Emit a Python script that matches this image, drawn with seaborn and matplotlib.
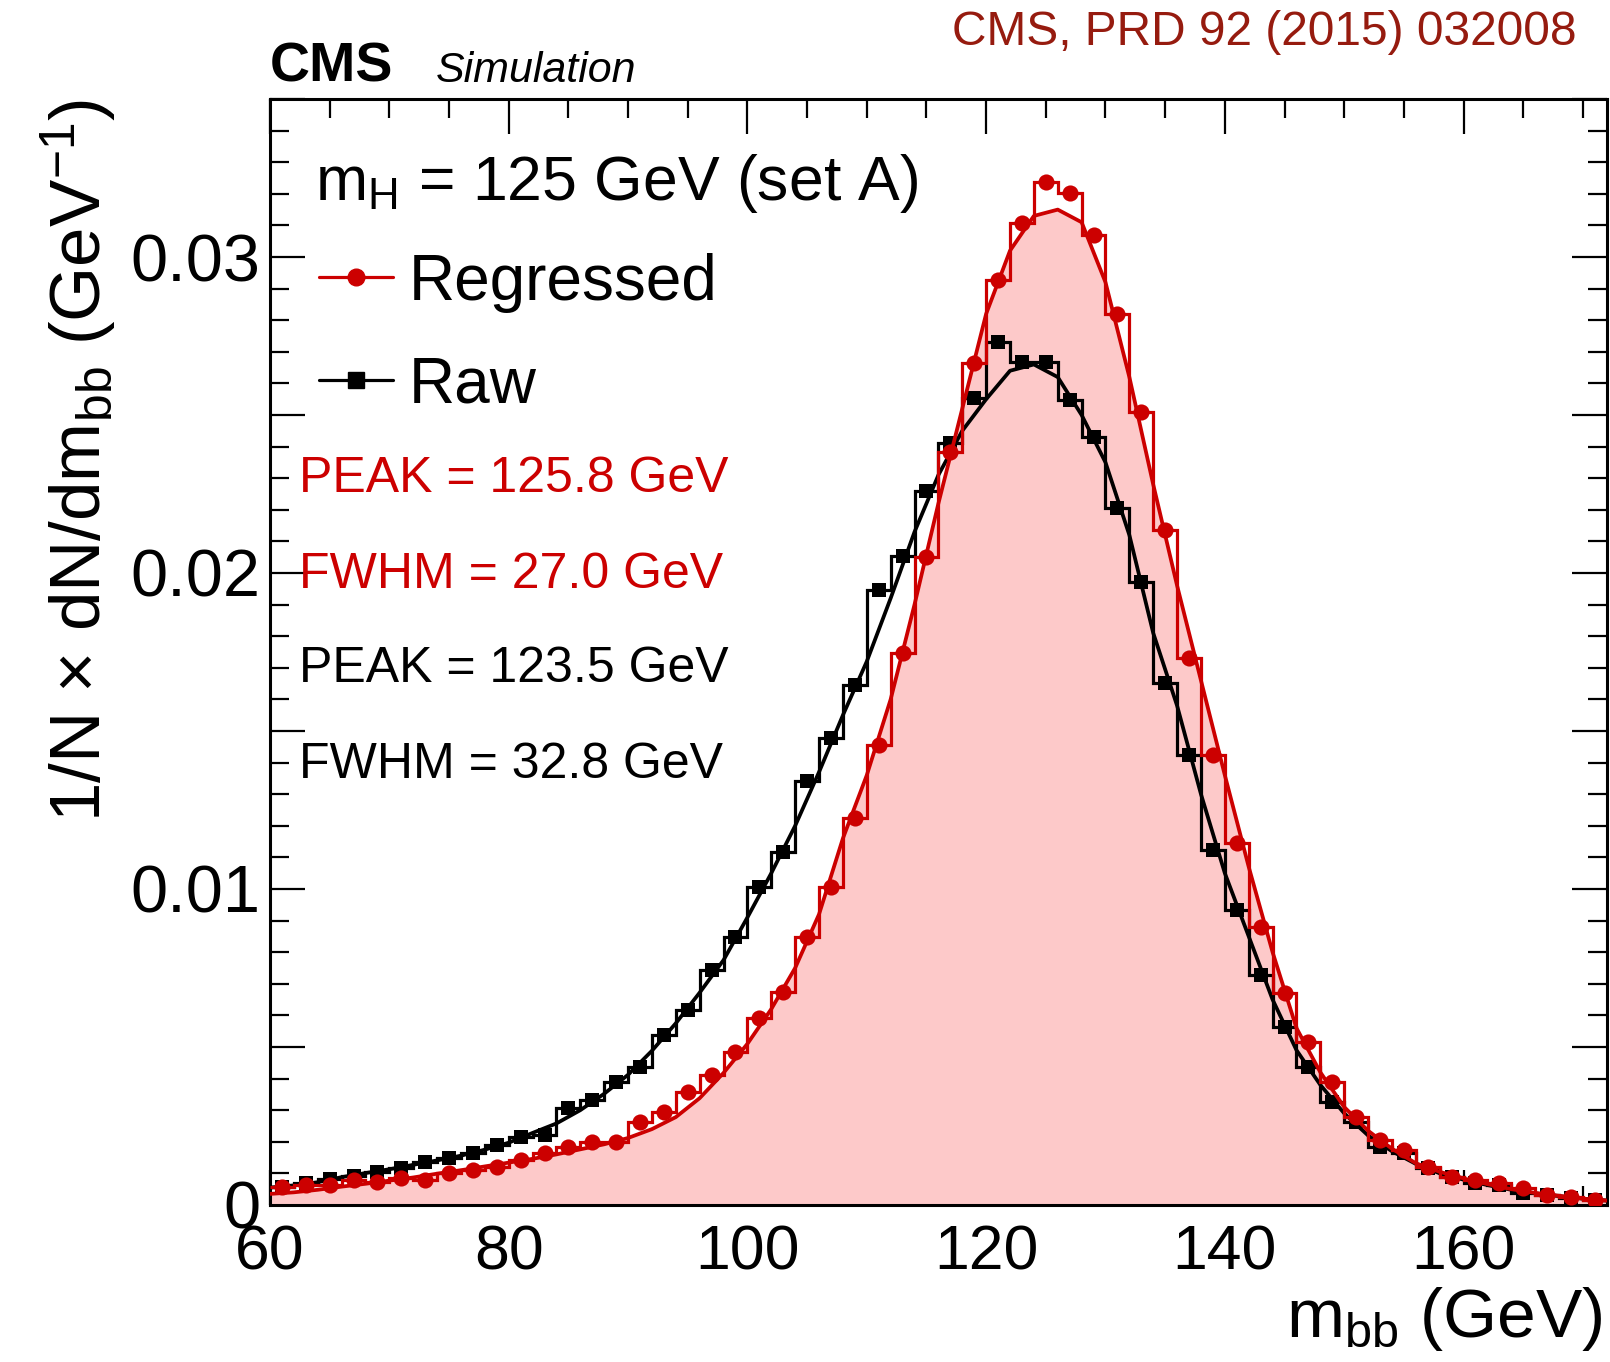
import matplotlib
matplotlib.use("Agg")
import numpy as np
import pandas as pd
import matplotlib.pyplot as plt
import seaborn as sns
from matplotlib.ticker import MultipleLocator, FuncFormatter
from matplotlib.lines import Line2D

sns.set_style("ticks")
plt.rcParams['font.family'] = ['Liberation Sans', 'DejaVu Sans']
plt.rcParams['mathtext.fontset'] = 'custom'
plt.rcParams['mathtext.rm'] = 'Liberation Sans'
plt.rcParams['mathtext.it'] = 'Liberation Sans:italic'
plt.rcParams['mathtext.bf'] = 'Liberation Sans:bold'
plt.rcParams['mathtext.default'] = 'regular'
for k in ['text.color', 'axes.labelcolor', 'xtick.color', 'ytick.color', 'axes.edgecolor']:
    plt.rcParams[k] = 'black'

# ---------------- data ----------------
bin_edges = list(range(60, 174, 2))          # 2 GeV bins, 60..172
bin_centers = [e + 1 for e in bin_edges[:-1]]

regressed = [0.00058, 0.00063, 0.00063, 0.00079, 0.00074, 0.00084, 0.00079, 0.00100, 0.00111, 0.00121,
             0.00142, 0.00164, 0.00185, 0.00200, 0.00200, 0.00264, 0.00295, 0.00359, 0.00411, 0.00485,
             0.00591, 0.00675, 0.00849, 0.01007, 0.01224, 0.01455, 0.01748, 0.02052, 0.02382, 0.02664,
             0.02927, 0.03107, 0.03238, 0.03202, 0.03070, 0.02820, 0.02510, 0.02135, 0.01730, 0.01424,
             0.01145, 0.00881, 0.00670, 0.00517, 0.00390, 0.00279, 0.00206, 0.00174, 0.00121, 0.00090,
             0.00079, 0.00069, 0.00053, 0.00032, 0.00026, 0.00016]

raw = [0.00058, 0.00068, 0.00082, 0.00093, 0.00105, 0.00118, 0.00135, 0.00148, 0.00165, 0.00190,
       0.00216, 0.00222, 0.00306, 0.00332, 0.00390, 0.00438, 0.00538, 0.00617, 0.00744, 0.00849,
       0.01007, 0.01118, 0.01343, 0.01477, 0.01646, 0.01945, 0.02055, 0.02260, 0.02410, 0.02553,
       0.02732, 0.02669, 0.02669, 0.02547, 0.02431, 0.02205, 0.01970, 0.01651, 0.01424, 0.01123,
       0.00934, 0.00728, 0.00564, 0.00438, 0.00327, 0.00264, 0.00185, 0.00164, 0.00116, 0.00090,
       0.00069, 0.00063, 0.00037, 0.00032, 0.00021, 0.00016]

fit_mass = list(range(60, 174, 2))
fit_regressed = [0.00035, 0.00040, 0.00048, 0.00058, 0.00067, 0.00077, 0.00087, 0.00099, 0.00110, 0.00122,
                 0.00134, 0.00146, 0.00160, 0.00176, 0.00192, 0.00212, 0.00240, 0.00278, 0.00338, 0.00418,
                 0.00510, 0.00620, 0.00750, 0.00920, 0.01160, 0.01360, 0.01600, 0.01900, 0.02220, 0.02520,
                 0.02820, 0.03020, 0.03130, 0.03150, 0.03110, 0.02920, 0.02620, 0.02280, 0.01960, 0.01660,
                 0.01360, 0.01070, 0.00800, 0.00560, 0.00420, 0.00310, 0.00235, 0.00178, 0.00132, 0.00105,
                 0.00084, 0.00066, 0.00050, 0.00038, 0.00029, 0.00020, 0.00014]
fit_raw = [0.00055, 0.00062, 0.00072, 0.00088, 0.00101, 0.00113, 0.00127, 0.00141, 0.00156, 0.00175,
           0.00197, 0.00228, 0.00258, 0.00300, 0.00352, 0.00412, 0.00488, 0.00575, 0.00672, 0.00775,
           0.00910, 0.01050, 0.01200, 0.01370, 0.01550, 0.01720, 0.01920, 0.02130, 0.02310, 0.02450,
           0.02550, 0.02640, 0.02660, 0.02620, 0.02500, 0.02350, 0.02120, 0.01810, 0.01580, 0.01300,
           0.01050, 0.00850, 0.00650, 0.00490, 0.00380, 0.00290, 0.00220, 0.00170, 0.00130, 0.00100,
           0.00080, 0.00063, 0.00048, 0.00037, 0.00028, 0.00020, 0.00014]

series_labels = ["Regressed", "Raw"]
stats_text = ["PEAK = 125.8 GeV", "FWHM = 27.0 GeV", "PEAK = 123.5 GeV", "FWHM = 32.8 GeV"]

# ---------------- style ----------------
RED = "#cc0000"
PINK = "#fdc9c9"
BLACK = "#000000"
CITE = "#961b0f"

hist_df = pd.DataFrame({"m": bin_centers, "regressed": regressed, "raw": raw})
fit_df = pd.DataFrame({"m": fit_mass, "regressed": fit_regressed, "raw": fit_raw})

fig = plt.figure(figsize=(16.10, 13.62), dpi=100)
ax = fig.add_axes([0.1677, 0.1153, 0.8303, 0.812])

# pink fill under the regressed fit
ax.fill_between(fit_df["m"], fit_df["regressed"], 0, color=PINK, lw=0, zorder=1)

# raw (black)
ax.stairs(raw, bin_edges, color=BLACK, lw=2.3, baseline=None, zorder=3)
sns.lineplot(data=fit_df, x="m", y="raw", color=BLACK, lw=2.7, ax=ax, zorder=4)
sns.scatterplot(data=hist_df, x="m", y="raw", color=BLACK, marker="s", s=115,
                linewidth=0, ax=ax, zorder=5)

# regressed (red)
ax.stairs(regressed, bin_edges, color=RED, lw=2.3, baseline=None, zorder=6)
sns.lineplot(data=fit_df, x="m", y="regressed", color=RED, lw=2.7, ax=ax, zorder=7)
sns.scatterplot(data=hist_df, x="m", y="regressed", color=RED, marker="o", s=135,
                linewidth=0, ax=ax, zorder=8)

ax.set_xlim(60, 172)
ax.set_ylim(0, 0.035)

ax.xaxis.set_major_locator(MultipleLocator(20))
ax.xaxis.set_minor_locator(MultipleLocator(5))
ax.yaxis.set_major_locator(MultipleLocator(0.005))
ax.yaxis.set_minor_locator(MultipleLocator(0.001))


def yfmt(v, pos):
    k = v / 0.01
    if abs(k - round(k)) > 1e-6:
        return ""
    if abs(v) < 1e-9:
        return "0"
    return f"{v:.2f}"


ax.yaxis.set_major_formatter(FuncFormatter(yfmt))
ax.tick_params(which="both", direction="in", top=True, right=True, width=1.6, colors="black")
ax.tick_params(which="major", length=25)
ax.tick_params(which="minor", length=14)
ax.tick_params(axis="x", which="major", labelsize=45, pad=13)
ax.tick_params(axis="y", which="major", labelsize=48, pad=7)
for s in ax.spines.values():
    s.set_linewidth(2.2)
    s.set_color("black")
    s.set_visible(True)

ax.set_xlabel("m$_{bb}$ (GeV)", fontsize=50, loc="right")
ax.xaxis.set_label_coords(0.997, -0.072)
ax.set_ylabel("1/N × dN/dm$_{bb}$ (GeV$^{-1}$)", fontsize=51, loc="top")
ax.yaxis.set_label_coords(-0.113, 1.0)

# header texts
fig.text(0.1677, 0.9398, "CMS", fontsize=40, fontweight="bold", ha="left", va="baseline")
fig.text(0.2708, 0.9398, "Simulation", fontsize=31, fontstyle="italic", ha="left", va="baseline")
fig.text(0.9795, 0.9669, "CMS, PRD 92 (2015) 032008", fontsize=34.5, color=CITE,
         ha="right", va="baseline")

# in-plot texts
ax.text(0.0337, 0.9087, "m$_{H}$ = 125 GeV (set A)", transform=ax.transAxes,
        fontsize=45, ha="left", va="baseline")

handles = [Line2D([], [], color=RED, marker="o", markersize=12, lw=2.3),
           Line2D([], [], color=BLACK, marker="s", markersize=11, lw=2.3)]
ax.legend(handles, series_labels, loc="upper left", bbox_to_anchor=(0.037, 0.861),
          frameon=False, fontsize=46, handlelength=1.15, handletextpad=0.25,
          labelspacing=0.67, borderaxespad=0, borderpad=0)

stat_colors = [RED, RED, BLACK, BLACK]
stat_y = [0.6447, 0.5579, 0.4729, 0.3861]
for t, c, y in zip(stats_text, stat_colors, stat_y):
    ax.text(0.0217, y, t, transform=ax.transAxes, fontsize=36, color=c,
            ha="left", va="baseline")

fig.savefig("out.png", dpi=100)
